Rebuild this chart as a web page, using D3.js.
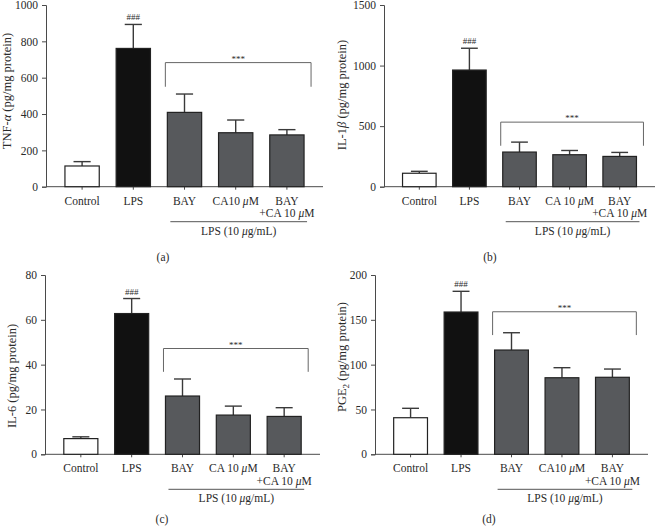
<!DOCTYPE html>
<html><head><meta charset="utf-8">
<script src="https://cdn.jsdelivr.net/npm/d3@7"></script>
<style>
body{margin:0;background:#fff}
svg{display:block}
text{font-family:"Liberation Serif","Times New Roman",serif;fill:#2a2a2a}
</style>
</head><body>
<svg id="chart" width="656" height="527"></svg>
<script>
// ---- data ----
const groups = ["Control", "LPS", "BAY", "CA", "BAY+CA"];
const labelsA = ["Control", "LPS", "BAY", "CA10 μM", "BAY\n+CA 10 μM"];
const labelsB = ["Control", "LPS", "BAY", "CA 10 μM", "BAY\n+CA 10 μM"];
const labelsC = ["Control", "LPS", "BAY", "CA 10 μM", "BAY\n+CA 10 μM"];
const labelsD = ["Control", "LPS", "BAY", "CA10 μM", "BAY\n+CA 10 μM"];
const groupLabel = "LPS (10 μg/mL)";

const tnfMean = [114, 761, 409, 297, 285];
const tnfSem  = [24, 132, 101, 70, 29];
const tnfTicks = [0, 200, 400, 600, 800, 1000];
const tnfBracket = [550, 683];

const il1bMean = [111, 963, 286, 264, 250];
const il1bSem  = [16, 180, 82, 35, 33];
const il1bTicks = [0, 500, 1000, 1500];
const il1bBracket = [338, 533];

const il6Mean = [7.0, 62.8, 26.0, 17.5, 16.9];
const il6Sem  = [0.8, 6.7, 7.6, 4.0, 3.9];
const il6Ticks = [0, 20, 40, 60, 80];
const il6Bracket = [36.8, 47.2];

const pge2Mean = [40.8, 158.7, 116.3, 85.4, 85.9];
const pge2Sem  = [10.5, 23.1, 19.3, 11.2, 9.2];
const pge2Ticks = [0, 50, 100, 150, 200];
const pge2Bracket = [133, 159];

const fills = ["#ffffff", "#111111", "#57595c", "#57595c", "#57595c"];

// ---- layout ----
const panels = [
  {mean: tnfMean, sem: tnfSem, ticks: tnfTicks, labels: labelsA, ylabel: "TNF-α (pg/mg protein)", bracket: tnfBracket,
   x0: 46, x1: 323, yTop: 5, yBase: 186.7, ylx: 11, yly: 91, tag: "(a)", tagX: 163, tagY: 261},
  {mean: il1bMean, sem: il1bSem, ticks: il1bTicks, labels: labelsB, ylabel: "IL-1β (pg/mg protein)", bracket: il1bBracket,
   x0: 384, x1: 655, yTop: 5, yBase: 186.7, ylx: 346, yly: 95, tag: "(b)", tagX: 490, tagY: 261},
  {mean: il6Mean, sem: il6Sem, ticks: il6Ticks, labels: labelsC, ylabel: "IL-6 (pg/mg protein)", bracket: il6Bracket,
   x0: 45, x1: 320, yTop: 275, yBase: 454.3, ylx: 16, yly: 376, tag: "(c)", tagX: 162, tagY: 523},
  {mean: pge2Mean, sem: pge2Sem, ticks: pge2Ticks, labels: labelsD, ylabel: "PGE_2 (pg/mg protein)", bracket: pge2Bracket,
   x0: 375, x1: 648, yTop: 275, yBase: 454.3, ylx: 346, yly: 357, tag: "(d)", tagX: 489, tagY: 523}
];

const svg = d3.select("#chart");
const axisColor = "#4a4a4a";

function rich(textSel, str) {
  const re = /(μ|α|β|_2)/g;
  let last = 0, m;
  let shifted = false;
  const parts = [];
  while ((m = re.exec(str)) !== null) {
    if (m.index > last) parts.push({t: str.slice(last, m.index), s: ""});
    parts.push({t: m[0] === "_2" ? "2" : m[0], s: m[0] === "_2" ? "sub" : "i"});
    last = m.index + m[0].length;
  }
  if (last < str.length) parts.push({t: str.slice(last), s: ""});
  parts.forEach(p => {
    const ts = textSel.append("tspan").text(p.t);
    if (p.s === "i") ts.attr("font-style", "italic");
    if (p.s === "sub") { ts.attr("font-size", "0.72em").attr("dy", 3); shifted = true; }
    else if (shifted) { ts.attr("dy", -3); shifted = false; }
  });
}

panels.forEach(p => {
  const g = svg.append("g");
  const x = d3.scaleBand().domain(groups).range([p.x0, p.x1]).paddingInner(0.33).paddingOuter(0.37);
  const y = d3.scaleLinear().domain([0, p.ticks[p.ticks.length - 1]]).range([p.yBase, p.yTop]);

  const ya = g.append("g").attr("transform", `translate(${p.x0},0)`)
    .call(d3.axisLeft(y).tickValues(p.ticks).tickSize(4).tickPadding(4).tickFormat(d3.format("d")));
  ya.select(".domain").attr("stroke", axisColor);
  ya.selectAll(".tick line").attr("stroke", axisColor);
  ya.selectAll(".tick text").attr("font-size", 11.5).attr("font-family", "Liberation Serif, serif").attr("fill", "#2a2a2a");

  const xa = g.append("g").attr("transform", `translate(0,${p.yBase})`)
    .call(d3.axisBottom(x).tickSize(3).tickFormat(""));
  xa.select(".domain").attr("stroke", axisColor).attr("d", `M${p.x0},0H${p.x1}`);
  xa.selectAll(".tick line").attr("stroke", axisColor);

  const idx = d3.range(groups.length);
  const cap = x.bandwidth() * 0.5;
  g.selectAll(".err").data(idx).join("line")
    .attr("x1", i => x(groups[i]) + x.bandwidth() / 2).attr("x2", i => x(groups[i]) + x.bandwidth() / 2)
    .attr("y1", i => y(p.mean[i])).attr("y2", i => y(p.mean[i] + p.sem[i]))
    .attr("stroke", "#3a3a3a").attr("stroke-width", 1.4);
  g.selectAll(".cap").data(idx).join("line")
    .attr("x1", i => x(groups[i]) + x.bandwidth() / 2 - cap / 2).attr("x2", i => x(groups[i]) + x.bandwidth() / 2 + cap / 2)
    .attr("y1", i => y(p.mean[i] + p.sem[i])).attr("y2", i => y(p.mean[i] + p.sem[i]))
    .attr("stroke", "#3a3a3a").attr("stroke-width", 1.4);

  g.selectAll(".bar").data(idx).join("rect")
    .attr("x", i => x(groups[i])).attr("width", x.bandwidth())
    .attr("y", i => y(p.mean[i])).attr("height", i => p.yBase - y(p.mean[i]))
    .attr("fill", i => fills[i]).attr("stroke", "#222").attr("stroke-width", 1.2);

  g.append("text").attr("x", x("LPS") + x.bandwidth() / 2).attr("y", y(p.mean[1] + p.sem[1]) - 4)
    .attr("text-anchor", "middle").attr("font-size", 9).attr("fill", "#555").text("###");

  const bx0 = x("BAY") - 2, bx1 = x("BAY+CA") + x.bandwidth() + 7;
  const byTop = y(p.bracket[1]), byBot = y(p.bracket[0]);
  g.append("path").attr("d", `M${bx0},${byBot}V${byTop}H${bx1}V${byBot}`)
    .attr("fill", "none").attr("stroke", "#666").attr("stroke-width", 1);
  g.append("text").attr("x", (bx0 + bx1) / 2).attr("y", byTop - 1)
    .attr("text-anchor", "middle").attr("font-size", 9).attr("fill", "#555").text("***");

  p.labels.forEach((lab, i) => {
    lab.split("\n").forEach((line, k) => {
      const t = g.append("text").attr("x", x(groups[i]) + x.bandwidth() / 2)
        .attr("y", p.yBase + 18 + k * 12.5).attr("text-anchor", "middle").attr("font-size", 11.5);
      rich(t, line);
    });
  });

  const lx0 = x("BAY") + 3, lx1 = x("BAY+CA") + x.bandwidth() + 3;
  g.append("line").attr("x1", lx0).attr("x2", lx1).attr("y1", p.yBase + 35).attr("y2", p.yBase + 35)
    .attr("stroke", "#555").attr("stroke-width", 1);
  const lt = g.append("text").attr("x", (lx0 + lx1) / 2).attr("y", p.yBase + 48)
    .attr("text-anchor", "middle").attr("font-size", 11.5);
  rich(lt, groupLabel);

  const yl = g.append("text").attr("transform", `translate(${p.ylx},${p.yly}) rotate(-90)`)
    .attr("text-anchor", "middle").attr("font-size", 12.5);
  rich(yl, p.ylabel);

  g.append("text").attr("x", p.tagX).attr("y", p.tagY).attr("text-anchor", "middle").attr("font-size", 11.5).text(p.tag);
});
</script>
</body></html>
